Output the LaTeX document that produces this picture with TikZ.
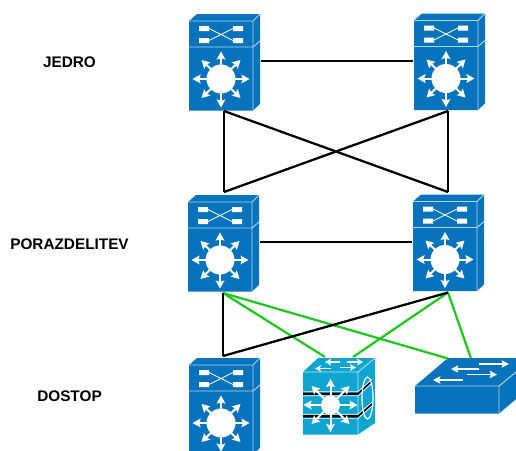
\documentclass[tikz,border=0pt]{standalone}
\usepackage{fontspec}
\setmainfont{Liberation Sans}
\usetikzlibrary{arrows.meta}
\definecolor{ciscoblue}{HTML}{0873BD}
\definecolor{ciscocyan}{HTML}{0FA5D0}
\definecolor{linkgreen}{HTML}{1FC81F}
\tikzset{
  x=0.75pt,y=-0.75pt,
  layerlabel/.style={font=\bfseries\fontsize{11.5pt}{13pt}\selectfont,text=black,inner sep=0pt},
  blacklink/.style={draw=black,line width=1.7pt},
  greenlink/.style={draw=linkgreen,line width=1.7pt},
  edgewhite/.style={draw=white!70!ciscoblue,line width=0.7pt,line join=round},
  icon/.style={-{Stealth[length=6pt,width=6.5pt,inset=1pt]},draw=white,line width=1.5pt},
  flatarrow/.style={white,line width=1.4pt,-{Stealth[length=5.5pt,width=5.5pt,inset=1pt]}},
  toparrow/.style={white,line width=1.3pt,-{Stealth[length=4.5pt,width=5pt,inset=1pt]}},
  switchthree/.pic={
    \fill[ciscoblue] (0,7)--(8,0)--(71,0)--(71,90)--(64,96.5)--(0,96.5)--cycle;
    \draw[edgewhite] (0,7)--(64,7)--(71,0) (64,7)--(64,96.5) (0,33)--(64,33)--(71,27);
    \fill[white] (10,12)rectangle(20,17) (44,12)rectangle(54,17) (10,24)rectangle(20,29) (44,24)rectangle(54,29);
    \draw[white,line width=0.6pt] (20,14.5)--(44,26.5) (20,26.5)--(44,14.5);
    \foreach \dx/\dy in {0/-27.5,0/28.5,-28.5/0,28.5/0,-19.5/-19,19.5/-19,-19.5/19,19.5/19}
      \draw[icon] (32,65)--++(\dx,\dy);
    \fill[white] (32,65) circle (14.5);
    \coordinate (-top) at (35,0);
    \coordinate (-bot) at (35,97);
    \coordinate (-left) at (-1,47);
    \coordinate (-right) at (72,47);
  },
}
\begin{document}
\begin{tikzpicture}
\useasboundingbox (0,0) rectangle (516,450);
\clip (0,0) rectangle (516,450);

\node[layerlabel] (jedro) at (69.5,62) {JEDRO};
\node[layerlabel] (porazdelitev) at (69.5,244) {PORAZDELITEV};
\node[layerlabel] (dostop) at (69.5,396.5) {DOSTOP};

\pic (core1) at (189,14) {switchthree};
\pic (core2) at (414,13.5) {switchthree};
\pic (dist1) at (188,195) {switchthree};
\pic (dist2) at (413,194.5) {switchthree};
\pic (acc1) at (189,358) {switchthree};

% cube switch
\fill[ciscocyan] (303,372)--(318,358)--(375,358)--(375,423)--(358,434.5)--(303,434.5)--cycle;
\draw[draw=white!70!ciscocyan,line width=0.6pt] (303,372)--(358,372)--(375,358) (358,372)--(358,434.5);
\fill[black] (303,392.5)rectangle(358,395) (303,415)rectangle(358,417.5);
\fill[black] (358,392.5)--(372,380)--(372,382)--(358,395)--cycle (358,415)--(372,403)--(372,405)--(358,417.5)--cycle;
\draw[white,line width=0.5pt] (303,391.7)--(358,391.7)--(372,379.2) (303,395.8)--(358,395.8)--(372,383) (303,414.2)--(358,414.2)--(372,402.2) (303,418.3)--(358,418.3)--(372,406);
\draw[white,line width=0.9pt] (367.5,398) ellipse (5.5 and 21);
\foreach \dx/\dy in {0/-26,0/27,-27/0,27/0,-19/-19,19/-19,-19/19,19/19}
  \draw[icon] (330.5,405)--++(\dx,\dy);
\fill[white] (330.5,405) circle (9.5);
\draw[toparrow] (340,362)--(325,362);
\draw[toparrow] (347,362)--(363,362);
\draw[toparrow] (331,368.5)--(315,368.5);
\draw[toparrow] (340,367.5)--(356,367.5);

% flat switch
\fill[ciscoblue] (415,386)--(448,358)--(533,358)--(533,385)--(499,413.5)--(415,413.5)--cycle;
\draw[edgewhite] (415,386)--(499,386)--(533,358) (499,386)--(499,413.5);
\draw[flatarrow] (479,364)--(509,364);
\draw[flatarrow] (479,369)--(451,369);
\draw[flatarrow] (467,374.5)--(497,374.5);
\draw[flatarrow] (463,380)--(433,380);

\coordinate (cubetop1) at (325,357);
\coordinate (cubetop2) at (353,357);
\coordinate (flattop1) at (448,358.5);
\coordinate (flattop2) at (471,358.5);

% links
\draw[blacklink] (core1-right|-0,61) -- (core2-left|-0,61);
\draw[blacklink] (224,111) coordinate (c1b) -- (448,192) coordinate (d2t);
\draw[blacklink] (448,111) coordinate (c2b) -- (224,192) coordinate (d1t);
\draw[blacklink] (c1b) -- (d1t);
\draw[blacklink] (c2b) -- (d2t);
\draw[blacklink] (dist1-right|-0,242) -- (dist2-left|-0,242);
\draw[greenlink] (dist1-bot) ++(0,1) coordinate (d1b) -- (cubetop1);
\draw[greenlink] (d1b) -- (flattop1);
\draw[greenlink] (dist2-bot) ++(0,1) coordinate (d2b) -- (cubetop2);
\draw[greenlink] (d2b) -- (flattop2);
\draw[blacklink] (d1b) -- (223,356) coordinate (a1t);
\draw[blacklink] (d2b) -- (a1t);
\end{tikzpicture}
\end{document}
